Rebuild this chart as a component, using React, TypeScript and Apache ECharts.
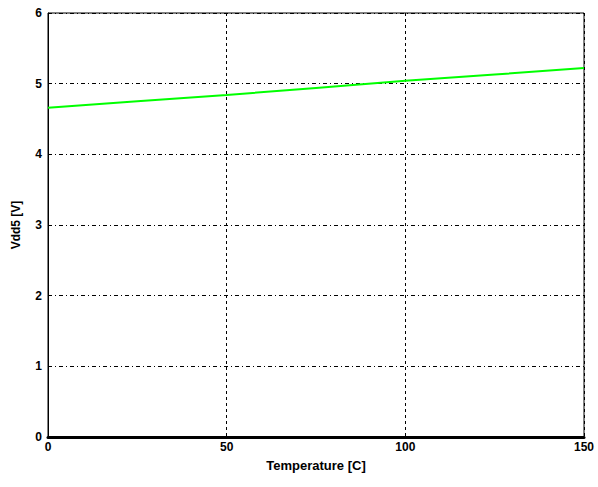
import React, { useEffect, useRef } from "react";
import * as echarts from "echarts";

const temps = [0, 25, 50, 75, 100, 125, 150];
const vdd = [4.66, 4.75, 4.84, 4.94, 5.04, 5.13, 5.22];
const xTicks = [0, 50, 100, 150];
const yTicks = [0, 1, 2, 3, 4, 5, 6];

export default function App() {
  const ref = useRef<HTMLDivElement>(null);
  useEffect(() => {
    document.body.style.margin = "0";
    const chart = echarts.init(ref.current!, undefined, { renderer: "svg" });
    const font = "Arial, 'Liberation Sans', sans-serif";
    chart.setOption({
      animation: false,
      backgroundColor: "#fff",
      grid: {
        left: 48,
        right: 14,
        top: 13,
        bottom: 50,
        show: true,
        borderColor: "#000",
        borderWidth: 1,
        backgroundColor: "transparent",
      },
      xAxis: {
        type: "value",
        min: xTicks[0],
        max: xTicks[xTicks.length - 1],
        interval: 50,
        name: "Temperature [C]",
        nameLocation: "middle",
        nameGap: 22,
        nameTextStyle: { fontFamily: font, fontWeight: 900, fontSize: 13, color: "#000" },
        axisLine: { show: true, lineStyle: { color: "#000", width: 3 } },
        axisTick: { show: false },
        axisLabel: { fontFamily: font, fontWeight: 900, fontSize: 12, color: "#000", margin: 4 },
        splitLine: { show: true, lineStyle: { color: "#000", width: 1, type: [3, 3] } },
      },
      yAxis: {
        type: "value",
        min: yTicks[0],
        max: yTicks[yTicks.length - 1],
        interval: 1,
        name: "Vdd5 [V]",
        nameLocation: "middle",
        nameGap: 26,
        nameTextStyle: { fontFamily: font, fontWeight: 900, fontSize: 12, color: "#000" },
        axisLine: { show: true, lineStyle: { color: "#000", width: 1 } },
        axisTick: { show: false },
        axisLabel: { fontFamily: font, fontWeight: 900, fontSize: 12, color: "#000", margin: 6 },
        splitLine: { show: true, lineStyle: { color: "#000", width: 1, type: [4, 3, 1, 3] } },
      },
      series: [
        {
          type: "line",
          data: temps.map((t, i) => [t, vdd[i]]),
          showSymbol: false,
          lineStyle: { color: "#00ff00", width: 2 },
          z: 5,
        },
      ],
    });
    return () => chart.dispose();
  }, []);
  return <div ref={ref} style={{ width: 598, height: 487 }} />;
}
